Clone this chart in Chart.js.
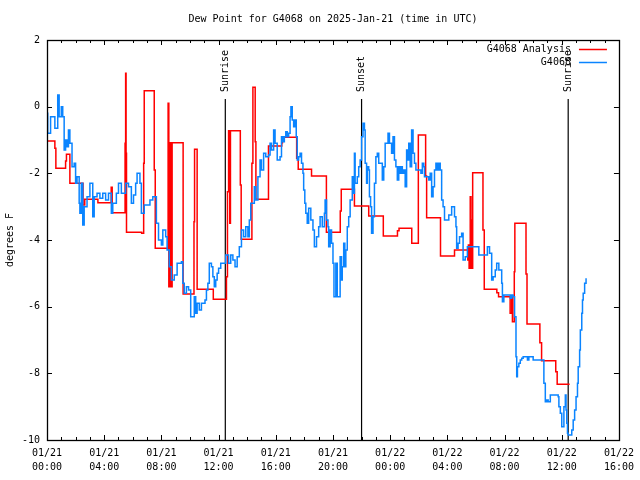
<!DOCTYPE html>
<html><head><meta charset="utf-8">
<script src="https://cdn.jsdelivr.net/npm/chart.js@4/dist/chart.umd.min.js"></script>
<style>html,body{margin:0;padding:0;background:#fff}#wrap{width:640px;height:480px}</style>
</head><body><div id="wrap"><canvas id="c" width="640" height="480"></canvas></div>
<script>
const chartTitle = 'Dew Point for G4068 on 2025-Jan-21 (time in UTC)';
const yAxisTitle = 'degrees F';
const xTickLabels = [['01/21','00:00'],['01/21','04:00'],['01/21','08:00'],['01/21','12:00'],['01/21','16:00'],['01/21','20:00'],['01/22','00:00'],['01/22','04:00'],['01/22','08:00'],['01/22','12:00'],['01/22','16:00']];
const seriesNames = ['G4068 Analysis', 'G4068'];
const sunHours = [12.47, 22.0, 36.45];
const sunLabels = ['Sunrise', 'Sunset', 'Sunrise'];

// Analysis (hours since 01/21 00:00 UTC, dew point F) - step series
const analysisHours = [
 0.0,0.55,0.62,1.3,1.36,1.6,2.52,2.64,3.56,4.49,
 4.56,5.46,5.5,5.53,5.56,6.62,6.76,6.8,7.5,7.57,
 8.47,8.52,8.6,8.66,8.75,9.52,10.28,10.32,10.5,11.63,
 12.55,12.62,12.7,12.78,12.83,13.52,13.58,14.33,14.4,14.56,
 14.61,15.49,16.42,16.47,17.46,17.57,18.5,19.54,20.51,20.58,
 21.5,22.5,23.52,24.51,24.62,25.51,25.97,26.48,26.55,27.52,
 28.5,29.43,29.47,29.52,29.6,29.65,29.7,29.77,30.49,30.58,
 31.46,31.58,32.39,32.5,32.55,32.68,32.72,33.5,33.57,34.47,
 34.59,35.58,35.68,36.55];
const analysisDew = [
 -1.03,-1.25,-1.85,-1.63,-1.43,-2.3,-2.95,-2.78,-2.88,-2.42,
 -3.18,-1.1,1.0,-1.4,-3.77,-3.8,-1.7,0.48,-1.9,-4.25,
 0.1,-5.4,-1.08,-5.4,-1.08,-5.62,-3.45,-1.28,-5.48,-5.78,
 -5.1,-2.55,-0.72,-3.5,-0.72,-2.35,-3.98,-1.7,0.58,-1.05,
 -2.78,-1.18,-1.08,-0.92,-1.55,-1.88,-2.08,-3.77,-3.13,-2.48,
 -2.98,-3.28,-3.88,-3.72,-3.65,-4.1,-0.85,-2.08,-3.33,-4.48,
 -4.3,-4.6,-4.15,-4.85,-2.7,-3.4,-4.85,-1.98,-3.7,-5.48,
 -5.58,-5.7,-6.2,-5.67,-6.45,-4.95,-3.5,-5.02,-6.52,-7.08,
 -7.62,-7.95,-8.33,-8.33];

// Station observations
const obsHours = [
 0.0,0.05,0.25,0.45,0.55,0.75,0.85,1.0,1.1,1.2,
 1.3,1.4,1.5,1.6,1.75,1.9,2.0,2.1,2.25,2.3,
 2.4,2.5,2.6,2.8,3.0,3.2,3.3,3.5,3.7,3.9,
 4.1,4.3,4.5,4.6,4.85,5.0,5.2,5.4,5.5,5.7,
 5.9,6.05,6.2,6.3,6.5,6.6,6.8,7.0,7.2,7.4,
 7.6,7.65,7.8,8.0,8.1,8.3,8.4,8.55,8.7,8.9,
 9.1,9.4,9.5,9.6,9.75,9.9,10.05,10.2,10.3,10.4,
 10.5,10.65,10.8,10.95,11.05,11.15,11.25,11.35,11.5,11.6,
 11.7,11.8,11.9,12.0,12.15,12.4,12.5,12.7,12.85,13.0,
 13.15,13.3,13.45,13.6,13.75,13.9,14.05,14.15,14.25,14.4,
 14.5,14.6,14.75,14.9,15.0,15.15,15.3,15.5,15.6,15.7,
 15.85,15.95,16.1,16.3,16.4,16.5,16.6,16.7,16.8,16.9,
 17.0,17.06,17.15,17.25,17.35,17.43,17.5,17.6,17.7,17.8,
 17.9,17.95,18.03,18.1,18.2,18.3,18.45,18.6,18.7,18.85,
 19.0,19.1,19.25,19.4,19.45,19.55,19.65,19.7,19.8,19.9,
 20.0,20.07,20.2,20.3,20.4,20.5,20.6,20.65,20.75,20.83,
 20.9,21.0,21.1,21.2,21.35,21.4,21.5,21.55,21.7,21.8,
 21.9,22.0,22.1,22.2,22.25,22.35,22.4,22.5,22.55,22.63,
 22.7,22.8,22.9,23.0,23.1,23.2,23.35,23.45,23.55,23.65,
 23.75,23.85,23.95,24.1,24.2,24.3,24.4,24.5,24.6,24.7,
 24.75,24.85,24.95,25.05,25.15,25.25,25.3,25.4,25.5,25.6,
 25.7,25.8,26.0,26.15,26.25,26.35,26.4,26.7,26.8,26.9,
 27.0,27.1,27.2,27.3,27.4,27.5,27.6,27.7,27.8,28.1,
 28.3,28.5,28.6,28.65,28.75,28.85,29.0,29.1,29.25,29.4,
 30.2,30.8,30.95,31.1,31.2,31.35,31.45,31.6,31.8,31.85,
 31.95,32.4,32.5,32.6,32.7,32.8,32.85,32.9,33.0,33.1,
 33.2,33.3,33.6,33.7,34.0,34.75,34.85,34.95,35.05,35.2,
 35.75,35.8,35.9,36.0,36.15,36.25,36.3,36.35,36.4,36.45,
 36.7,36.8,36.9,37.0,37.1,37.15,37.25,37.3,37.4,37.45,
 37.5,37.6,37.7];
const obsDew = [
 -0.2,-0.8,-0.3,-0.3,-0.65,0.35,-0.3,0.0,-0.3,-1.3,
 -1.0,-1.2,-0.7,-1.1,-1.8,-1.7,-2.3,-2.1,-2.9,-3.2,
 -2.3,-3.55,-3.0,-2.7,-2.3,-3.3,-2.7,-2.6,-2.75,-2.6,
 -2.8,-2.6,-3.2,-2.9,-2.6,-2.3,-2.6,-2.6,-2.3,-2.4,
 -2.9,-2.65,-2.3,-2.0,-2.3,-3.2,-2.95,-2.95,-2.8,-2.7,
 -2.7,-3.5,-4.0,-4.15,-3.7,-3.9,-4.3,-4.8,-5.2,-5.05,
 -4.7,-4.65,-5.3,-5.6,-5.4,-5.5,-6.3,-6.3,-5.7,-6.2,
 -5.9,-6.1,-5.9,-5.9,-5.8,-5.5,-5.3,-4.7,-4.8,-5.1,
 -5.4,-5.2,-5.0,-4.85,-4.7,-4.7,-4.45,-4.7,-4.45,-4.6,
 -4.8,-4.5,-4.2,-3.7,-3.9,-3.6,-3.9,-3.4,-2.9,-2.9,
 -2.4,-2.8,-2.1,-1.6,-1.9,-1.4,-1.5,-1.45,-1.1,-1.3,
 -0.7,-1.1,-1.6,-1.5,-0.9,-1.05,-0.9,-0.75,-0.9,-0.8,
 -0.3,0.0,-0.4,-0.6,-0.4,-0.9,-1.6,-1.5,-1.4,-1.7,
 -2.0,-2.5,-2.9,-3.2,-3.5,-3.05,-3.4,-3.7,-4.2,-3.9,
 -3.6,-3.3,-3.6,-3.2,-2.8,-3.4,-3.6,-4.2,-3.7,-4.1,
 -4.7,-5.7,-4.7,-5.7,-5.7,-4.5,-5.2,-4.8,-4.1,-4.8,
 -4.3,-3.6,-3.3,-2.8,-2.1,-2.6,-1.4,-2.3,-2.1,-1.8,
 -1.6,-0.9,-0.5,-0.7,-1.7,-2.3,-1.8,-1.9,-2.7,-3.0,
 -3.8,-3.3,-2.3,-1.5,-1.4,-1.7,-1.7,-2.2,-1.8,-1.1,
 -1.1,-0.8,-1.1,-1.4,-0.9,-1.6,-1.8,-2.2,-1.8,-2.0,
 -1.8,-2.0,-1.9,-2.4,-1.3,-1.6,-1.1,-1.8,-0.7,-1.4,
 -1.7,-1.9,-1.9,-2.0,-1.7,-1.8,-2.1,-2.2,-2.0,-2.7,
 -2.4,-1.9,-1.7,-1.9,-1.7,-1.9,-2.8,-3.0,-3.4,-3.25,
 -3.0,-3.3,-3.6,-4.25,-4.1,-3.9,-3.8,-4.6,-4.5,-4.2,
 -4.45,-4.2,-4.4,-5.2,-5.1,-4.9,-4.7,-4.9,-5.3,-5.85,
 -5.65,-5.75,-5.65,-5.7,-6.3,-7.5,-8.1,-7.8,-7.7,-7.6,
 -7.55,-7.5,-7.6,-7.5,-7.6,-8.3,-8.85,-8.8,-8.85,-8.65,
 -8.7,-9.0,-9.2,-9.6,-9.0,-8.65,-9.1,-9.5,-9.8,-9.85,
 -9.7,-9.4,-9.1,-8.7,-8.3,-7.8,-7.3,-6.7,-6.2,-5.8,
 -5.6,-5.3,-5.15];

const FONT_FAMILY = "'DejaVu Sans Mono', 'Liberation Mono', monospace";
const FONT = '10px ' + FONT_FAMILY;

const decor = {
  id: 'decor',
  beforeDatasetsDraw(chart) {
    const {ctx, chartArea: a, scales: {x}} = chart;
    ctx.save();
    ctx.strokeStyle = '#000';
    ctx.lineWidth = 1.2;
    ctx.fillStyle = '#000';
    ctx.font = FONT;
    sunHours.forEach((h, i) => {
      const px = x.getPixelForValue(h);
      ctx.beginPath();
      ctx.moveTo(px, a.top + 59);
      ctx.lineTo(px, a.bottom);
      ctx.stroke();
      ctx.save();
      ctx.translate(px, a.top + 52);
      ctx.rotate(-Math.PI / 2);
      ctx.textAlign = 'left';
      ctx.textBaseline = 'middle';
      ctx.fillText(sunLabels[i], 0, 0);
      ctx.restore();
    });
    ctx.restore();
  },
  afterDatasetsDraw(chart) {
    const {ctx, chartArea: a, scales: {x, y}} = chart;
    ctx.save();
    ctx.strokeStyle = '#000';
    ctx.lineWidth = 1;
    // ticks
    ctx.beginPath();
    for (let h = 0; h <= 40; h++) {
      const px = Math.round(x.getPixelForValue(h)) + 0.5;
      const len = h % 4 === 0 ? 5 : 3;
      ctx.moveTo(px, a.bottom); ctx.lineTo(px, a.bottom - len);
      ctx.moveTo(px, a.top); ctx.lineTo(px, a.top + len);
    }
    for (let v = -10; v <= 2; v += 2) {
      const py = Math.round(y.getPixelForValue(v)) + 0.5;
      ctx.moveTo(a.left, py); ctx.lineTo(a.left + 5, py);
      ctx.moveTo(a.right, py); ctx.lineTo(a.right - 5, py);
    }
    ctx.stroke();
    // box
    ctx.lineWidth = 1.3;
    ctx.strokeRect(Math.round(a.left) + 0.5, Math.round(a.top) + 0.5, Math.round(a.right - a.left), Math.round(a.bottom - a.top));
    // legend
    ctx.font = FONT;
    ctx.fillStyle = '#000';
    ctx.textAlign = 'right';
    ctx.textBaseline = 'middle';
    chart.data.datasets.forEach((ds, i) => {
      const ly = a.top + 9.5 + i * 13;
      ctx.fillText(ds.label, a.right - 48, ly);
      ctx.strokeStyle = ds.borderColor;
      ctx.lineWidth = 1.5;
      ctx.beginPath();
      ctx.moveTo(a.right - 40, ly); ctx.lineTo(a.right - 12, ly);
      ctx.stroke();
    });
    // title
    ctx.textAlign = 'center';
    ctx.fillText(chartTitle, (a.left + a.right) / 2, 19.5);
    // y title
    ctx.save();
    ctx.translate(10, (a.top + a.bottom) / 2);
    ctx.rotate(-Math.PI / 2);
    ctx.fillText(yAxisTitle, 0, 0);
    ctx.restore();
    ctx.restore();
  }
};

const analysisPts = analysisHours.map((h, i) => ({x: h, y: analysisDew[i]}));
const obsPts = obsHours.map((h, i) => ({x: h, y: obsDew[i]}));

new Chart(document.getElementById('c'), {
  type: 'line',
  data: {
    datasets: [
      {label: seriesNames[0], data: analysisPts, borderColor: '#ff0000', borderWidth: 1.5, stepped: true, pointRadius: 0, fill: false, order: 2},
      {label: seriesNames[1], data: obsPts, borderColor: '#0a84ff', borderWidth: 1.5, stepped: true, pointRadius: 0, fill: false, order: 1}
    ]
  },
  options: {
    responsive: false,
    animation: false,
    devicePixelRatio: 1,
    layout: {padding: {left: 0, top: 40, right: 18, bottom: 0}},
    plugins: {legend: {display: false}, title: {display: false}, tooltip: {enabled: false}},
    scales: {
      x: {
        type: 'linear', min: 0, max: 40,
        grid: {display: false, drawTicks: false},
        border: {display: false},
        afterFit: s => { s.height = 40; },
        afterBuildTicks: s => { s.ticks = xTickLabels.map((_, i) => ({value: i * 4})); },
        ticks: {
          autoSkip: false, maxRotation: 0, padding: 6,
          color: '#000', font: {family: FONT_FAMILY, size: 10, lineHeight: 1.4},
          callback: v => xTickLabels[Math.round(v / 4)]
        }
      },
      y: {
        type: 'linear', min: -10, max: 2,
        grid: {display: false, drawTicks: false},
        border: {display: false},
        afterFit: s => { s.width = 47; },
        ticks: {
          stepSize: 2, padding: 7,
          color: '#000', font: {family: FONT_FAMILY, size: 10}
        }
      }
    }
  },
  plugins: [decor]
});
</script>
</body></html>
